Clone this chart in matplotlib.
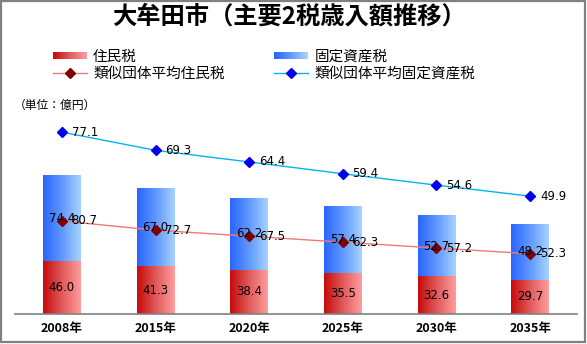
import numpy as np
import matplotlib.pyplot as plt
from matplotlib.patches import Rectangle
from matplotlib.lines import Line2D
from matplotlib.colors import LinearSegmentedColormap
from matplotlib.legend_handler import HandlerBase

plt.rcParams['font.family'] = ['Noto Sans CJK JP', 'DejaVu Sans']

years = ['2008年', '2015年', '2020年', '2025年', '2030年', '2035年']
jumin = [46.0, 41.3, 38.4, 35.5, 32.6, 29.7]          # 住民税
kotei = [74.4, 67.0, 62.2, 57.4, 52.7, 48.2]          # 固定資産税
avg_jumin = [80.7, 72.7, 67.5, 62.3, 57.2, 52.3]      # 類似団体平均住民税
avg_kotei = [77.1, 69.3, 64.4, 59.4, 54.6, 49.9]      # 類似団体平均固定資産税

red_cmap = LinearSegmentedColormap.from_list('red_grad', ['#c80a0a', '#e05a5a', '#ff9c9c'])
blue_cmap = LinearSegmentedColormap.from_list('blue_grad', ['#2a66ff', '#6098ff', '#a6d2ff'])
grad = np.linspace(0, 1, 64).reshape(1, -1)

fig = plt.figure(figsize=(5.87, 3.44), dpi=100)
ax = fig.add_axes([15/587, 30/344, 562/587, 207.5/344])
x = np.arange(len(years))
bw = 0.405


def gradient_bars(bars, cmap):
    # paint each bar rectangle with a left->right gradient
    for b in bars:
        x0, y0 = b.get_x(), b.get_y()
        ax.imshow(grad, cmap=cmap, aspect='auto', interpolation='bilinear',
                  extent=(x0, x0 + b.get_width(), y0, y0 + b.get_height()), zorder=1)


b1 = ax.bar(x, jumin, bw, color='none')
b2 = ax.bar(x, kotei, bw, bottom=jumin, color='none')
gradient_bars(b1, red_cmap)
gradient_bars(b2, blue_cmap)

# lines are stacked like the bars
top_line = np.add(avg_jumin, avg_kotei)
ax.plot(x, avg_jumin, color='#f07878', lw=1, marker='D', ms=5.5,
        mfc='#800000', mec='#800000', zorder=3)
ax.plot(x, top_line, color='#00b4f0', lw=1, marker='D', ms=5.5,
        mfc='#0000ee', mec='#0000ee', zorder=3)

for i in x:
    ax.text(i, jumin[i] / 2, f'{jumin[i]:.1f}', ha='center', va='center',
            fontsize=8.5, family='DejaVu Sans', zorder=4)
    ax.text(i, jumin[i] + kotei[i] / 2, f'{kotei[i]:.1f}', ha='center', va='center',
            fontsize=8.5, family='DejaVu Sans', zorder=4)
    ax.annotate(f'{avg_jumin[i]:.1f}', (i, avg_jumin[i]), xytext=(7, 0),
                textcoords='offset points', ha='left', va='center',
                fontsize=8.5, family='DejaVu Sans', zorder=4)
    ax.annotate(f'{avg_kotei[i]:.1f}', (i, top_line[i]), xytext=(7, 0),
                textcoords='offset points', ha='left', va='center',
                fontsize=8.5, family='DejaVu Sans', zorder=4)

ax.set_xlim(-0.5, len(years) - 0.5)
ax.set_ylim(0, 180)
ax.set_xticks(x, years, fontsize=9, fontweight='bold')
ax.set_yticks([])
ax.tick_params(axis='x', length=0, pad=6)
for s in ['top', 'left', 'right']:
    ax.spines[s].set_visible(False)
ax.spines['bottom'].set_color('#808080')
ax.spines['bottom'].set_linewidth(1.2)


class GradHandler(HandlerBase):
    def create_artists(self, legend, orig, xd, yd, w, h, fontsize, trans):
        n = 24
        arts = []
        for k in range(n):
            r = Rectangle((xd + w * k / n, yd + h * 0.15), w / n * 1.05, h * 0.7,
                          facecolor=orig.cmap(k / (n - 1)), edgecolor='none', transform=trans)
            arts.append(r)
        return arts


h_red = Rectangle((0, 0), 1, 1)
h_red.cmap = red_cmap
h_blue = Rectangle((0, 0), 1, 1)
h_blue.cmap = blue_cmap
h_lr = Line2D([], [], color='#f07878', lw=1, marker='D', ms=5.5, mfc='#800000', mec='#800000')
h_lb = Line2D([], [], color='#00b4f0', lw=1, marker='D', ms=5.5, mfc='#0000ee', mec='#0000ee')

fig.legend([h_red, h_lr, h_blue, h_lb],
           ['住民税', '類似団体平均住民税', '固定資産税', '類似団体平均固定資産税'],
           handler_map={h_red: GradHandler(), h_blue: GradHandler()},
           ncol=2, loc='upper left', bbox_to_anchor=(53/587, 1 - 50/344),
           frameon=False, fontsize=10.5, handlelength=2.3, handletextpad=0.45,
           columnspacing=3.4, labelspacing=0.2, borderaxespad=0, borderpad=0)

fig.text(0.492, 1 - 17/344, '大牟田市（主要2税歳入額推移）', ha='center', va='center',
         fontsize=17.5, fontweight='bold')
fig.text(14/587, 1 - 105/344, '（単位：億円）', ha='left', va='center', fontsize=8.5)

fig.patches.append(Rectangle((0.001, 0.005), 0.996, 0.993, transform=fig.transFigure,
                             fill=False, edgecolor='#808080', linewidth=1.6))

fig.savefig('out.png', dpi=100)
